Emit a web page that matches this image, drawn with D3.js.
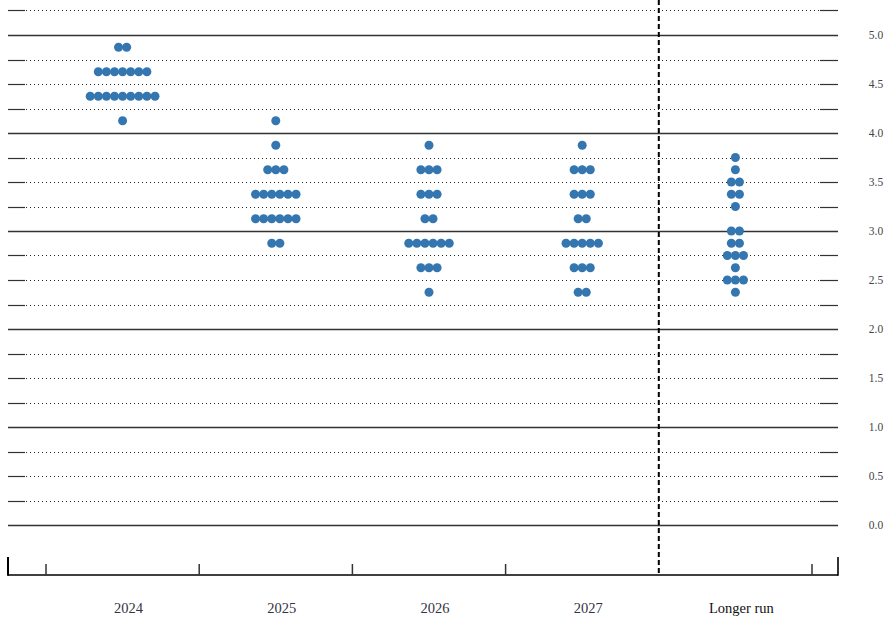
<!DOCTYPE html>
<html>
<head>
<meta charset="utf-8">
<script src="https://cdn.jsdelivr.net/npm/d3@7"></script>
<style>
  html, body { margin: 0; padding: 0; background: #fff; }
  svg { display: block; }
</style>
</head>
<body>
<svg id="chart" width="890" height="621"></svg>
<script>
// ---- data ----
const categories = ["2024", "2025", "2026", "2027", "Longer run"];
// each entry: [rate, number of participants]
const dots2024 = [[4.875, 2], [4.625, 7], [4.375, 9], [4.125, 1]];
const dots2025 = [[4.125, 1], [3.875, 1], [3.625, 3], [3.375, 6], [3.125, 6], [2.875, 2]];
const dots2026 = [[3.875, 1], [3.625, 3], [3.375, 3], [3.125, 2], [2.875, 6], [2.625, 3], [2.375, 1]];
const dots2027 = [[3.875, 1], [3.625, 3], [3.375, 3], [3.125, 2], [2.875, 5], [2.625, 3], [2.375, 2]];
const dotsLonger = [[3.75, 1], [3.625, 1], [3.5, 2], [3.375, 2], [3.25, 1], [3.0, 2], [2.875, 2], [2.75, 3], [2.625, 1], [2.5, 3], [2.375, 1]];
const seriesByCategory = [dots2024, dots2025, dots2026, dots2027, dotsLonger];
const gridValues = d3.range(0, 5.25 + 1e-9, 0.25);
const tickLabels = ["0.0", "0.5", "1.0", "1.5", "2.0", "2.5", "3.0", "3.5", "4.0", "4.5", "5.0"];

// ---- layout ----
const svg = d3.select("#chart");
const left = 8, right = 838;
const y = d3.scaleLinear().domain([0, 5]).range([525, 35]);
const x = d3.scaleBand().domain(categories).range([46, 812]).paddingInner(0).paddingOuter(0);
const axisY = 575;
const dotR = 4.5, dotStep = 8.1;
const dotColor = "#3476b0";

// grid lines
const grid = svg.append("g");
gridValues.forEach(v => {
  const yy = Math.round(y(v)) + 0.5;
  const isInt = Math.abs(v - Math.round(v)) < 1e-9;
  if (isInt) {
    grid.append("line").attr("x1", left).attr("x2", right).attr("y1", yy).attr("y2", yy)
      .attr("stroke", "#333").attr("stroke-width", 1.4);
  } else {
    grid.append("line").attr("x1", left + 18).attr("x2", right - 18).attr("y1", yy).attr("y2", yy)
      .attr("stroke", "#222").attr("stroke-width", 1).attr("stroke-dasharray", "1,3");
    grid.append("line").attr("x1", left).attr("x2", left + 17).attr("y1", yy).attr("y2", yy)
      .attr("stroke", "#333").attr("stroke-width", 1.2);
    grid.append("line").attr("x1", right - 18).attr("x2", right).attr("y1", yy).attr("y2", yy)
      .attr("stroke", "#333").attr("stroke-width", 1.2);
  }
});

// right axis labels
svg.append("g").selectAll("text").data(tickLabels).join("text")
  .attr("x", 876).attr("y", d => y(+d)).attr("dy", "0.35em")
  .attr("text-anchor", "middle")
  .attr("font-family", "'Liberation Serif', 'Times New Roman', serif")
  .attr("font-size", 11.5).attr("fill", "#444")
  .text(d => d);

// dots
const dotsG = svg.append("g");
categories.forEach((c, i) => {
  const cx = x(c) + x.bandwidth() / 2;
  seriesByCategory[i].forEach(([val, n]) => {
    for (let k = 0; k < n; k++) {
      dotsG.append("circle")
        .attr("cx", cx + (k - (n - 1) / 2) * dotStep)
        .attr("cy", y(val))
        .attr("r", dotR)
        .attr("fill", dotColor);
    }
  });
});

// bottom axis
const axisG = svg.append("g");
axisG.append("line").attr("x1", left).attr("x2", right).attr("y1", axisY).attr("y2", axisY)
  .attr("stroke", "#000").attr("stroke-width", 1.6);
axisG.append("line").attr("x1", left).attr("x2", left).attr("y1", 557).attr("y2", axisY + 0.8)
  .attr("stroke", "#000").attr("stroke-width", 2);
axisG.append("line").attr("x1", right).attr("x2", right).attr("y1", 557).attr("y2", axisY + 0.8)
  .attr("stroke", "#000").attr("stroke-width", 1.6);
const boundaries = categories.map(c => x(c)).concat([x.range()[1]]);
boundaries.forEach((b, i) => {
  if (i === 4) return; // dashed separator drawn below
  axisG.append("line").attr("x1", b).attr("x2", b).attr("y1", 564).attr("y2", axisY)
    .attr("stroke", "#333").attr("stroke-width", 1.5);
});

// dashed separator before "Longer run"
const sepX = x("Longer run");
svg.append("line").attr("x1", sepX).attr("x2", sepX).attr("y1", 0).attr("y2", axisY + 1)
  .attr("stroke", "#000").attr("stroke-width", 2).attr("stroke-dasharray", "5,3");

// category labels
svg.append("g").selectAll("text").data(categories).join("text")
  .attr("x", d => x(d) + x.bandwidth() / 2 + 6)
  .attr("y", 613)
  .attr("text-anchor", "middle")
  .attr("font-family", "'Liberation Serif', 'Times New Roman', serif")
  .attr("font-size", 14.5)
  .attr("fill", d => d === "Longer run" ? "#111" : "#333344")
  .text(d => d);
</script>
</body>
</html>
